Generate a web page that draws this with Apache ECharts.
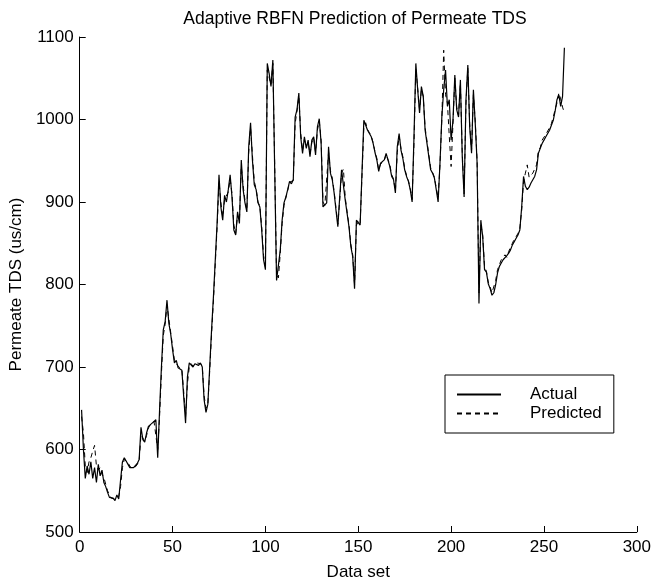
<!DOCTYPE html>
<html>
<head>
<meta charset="utf-8">
<script src="https://cdn.jsdelivr.net/npm/echarts@6/dist/echarts.min.js"></script>
<style>
html,body{margin:0;padding:0;background:#fff;}
#chart{width:654px;height:587px;}
</style>
</head>
<body>
<div id="chart"></div>
<script>
const titleText = 'Adaptive RBFN Prediction of Permeate TDS';
const xName = 'Data set';
const yName = 'Permeate TDS (us/cm)';
const seriesNames = ['Actual', 'Predicted'];

const actual = [
648,600,565,580,570,585,565,578,560,582,
568,575,560,555,548,542,540,541,538,545,
540,563,585,590,586,582,578,576,578,
580,583,588,627,612,609,620,628,630,632,
634,636,590,648,700,745,755,781,753,740,
721,705,708,699,700,696,664,632,688,705,
703,700,704,706,702,705,700,660,645,655,
700,745,785,830,875,933,894,878,908,900,
915,933,906,866,860,888,874,951,915,899,
888,967,996,951,921,915,899,894,866,
830,818,1068,1056,1040,1072,939,805,806,842,
878,899,906,915,925,922,927,1003,1012,1032,
979,959,979,965,975,955,975,979,957,991,
1001,971,894,895,899,967,935,927,911,890,
870,906,939,940,902,886,870,846,834,795,
878,876,872,872,999,997,987,983,979,971,
960,951,937,947,945,951,959,959,943,
931,927,911,967,983,963,953,939,931,925,
915,900,979,1068,1036,1008,1040,1028,987,
971,955,939,935,929,915,900,947,1003,1036,
1060,1016,1024,975,999,1054,1012,1003,1048,955,
906,1024,1066,991,959,1036,995,947,777,878,
858,818,815,801,795,787,790,800,814,822,
826,830,832,835,838,842,848,852,856,
860,866,894,931,919,915,918,923,927,931,
939,959,965,971,975,979,983,987,993,999,
1010,1024,1030,1016,1028,1087
];

const predicted = [
640,620,580,572,585,590,598,605,580,575,
578,570,566,558,550,545,541,540,540,542,
543,555,578,588,589,584,580,577,577,
579,582,586,618,618,610,617,626,630,632,
634,635,600,640,692,738,752,775,758,742,
725,708,706,701,700,697,670,640,680,700,
704,701,703,705,703,704,701,665,650,655,
695,740,780,825,870,925,900,882,903,902,
912,928,910,872,862,884,877,943,920,902,
890,960,990,957,925,916,900,895,870,
835,822,1060,1058,1042,1068,945,812,808,838,
874,896,905,914,924,923,926,995,1010,1028,
984,962,976,967,973,958,972,978,960,987,
998,975,900,896,898,960,938,929,913,893,
873,902,935,940,905,888,872,849,836,800,
872,876,873,872,990,996,988,984,980,972,
961,953,939,946,945,950,958,959,945,
933,928,913,960,980,965,955,941,932,926,
916,903,970,1062,1038,1012,1036,1028,990,
974,957,941,936,930,917,905,945,1000,1084,
1030,1020,980,943,995,1050,1015,1005,1044,960,
910,1020,1062,995,962,1030,998,950,790,872,
860,822,816,803,797,790,792,805,818,820,
830,828,836,833,840,845,850,855,858,
862,868,890,925,935,945,930,928,935,940,
945,962,966,975,973,982,980,990,995,1003,
1012,1020,1032,1025,1015,1008
];

const xTicks = [0,50,100,150,200,250,300];
const yTicks = [500,600,700,800,900,1000,1100];

const toPairs = arr => arr.map((v, i) => [i + 1, v]);

const font = 'Liberation Sans, Arial, Helvetica, sans-serif';
const chart = echarts.init(document.getElementById('chart'), null, {renderer: 'canvas'});
chart.setOption({
  animation: false,
  backgroundColor: '#ffffff',
  title: {
    text: titleText,
    left: 350, top: 5, textAlign: 'center',
    textStyle: {fontFamily: font, fontSize: 17.5, fontWeight: 'normal', color: '#000'}
  },
  grid: {left: 76, right: 14, top: 37, bottom: 55, containLabel: false},
  legend: {
    show: true,
    orient: 'vertical',
    left: 445, top: 375,
    padding: [11, 12, 11, 11],
    itemGap: 2,
    itemWidth: 44, itemHeight: 16,
    borderColor: '#000', borderWidth: 1,
    backgroundColor: '#fff',
    itemStyle: {opacity: 0},
    formatter: name => '{p|' + name + '}',
    textStyle: {fontFamily: font, fontSize: 17, color: '#000',
      rich: {p: {fontFamily: font, fontSize: 17, color: '#000', padding: [0, 0, 0, 24], lineHeight: 16}}},
    data: seriesNames
  },
  xAxis: {
    type: 'value', min: 0, max: 300, interval: 50,
    name: xName, nameLocation: 'middle', nameGap: 32,
    nameTextStyle: {fontFamily: font, fontSize: 17, color: '#000'},
    axisLine: {show: true, onZero: false, lineStyle: {color: '#000', width: 1}},
    axisTick: {show: true, inside: true, length: 6, lineStyle: {color: '#000'}},
    axisLabel: {fontFamily: font, fontSize: 17, color: '#000', margin: 7,
      formatter: v => xTicks.includes(v) ? String(v) : ''},
    splitLine: {show: false}
  },
  yAxis: {
    type: 'value', min: 500, max: 1100, interval: 100,
    name: yName, nameLocation: 'middle', nameGap: 54,
    nameTextStyle: {fontFamily: font, fontSize: 17, color: '#000'},
    axisLine: {show: true, onZero: false, lineStyle: {color: '#000', width: 1}},
    axisTick: {show: true, inside: true, length: 6, lineStyle: {color: '#000'}},
    axisLabel: {fontFamily: font, fontSize: 17, color: '#000', margin: 6,
      formatter: v => yTicks.includes(v) ? String(v) : ''},
    splitLine: {show: false}
  },
  series: [
    {
      name: seriesNames[0], type: 'line', data: toPairs(actual),
      symbol: 'none', z: 3,
      lineStyle: {color: '#000', width: 1.2, type: 'solid'},
      itemStyle: {color: '#000'}
    },
    {
      name: seriesNames[1], type: 'line', data: toPairs(predicted),
      symbol: 'none', z: 2,
      lineStyle: {color: '#000', width: 1, type: [5, 4]},
      itemStyle: {color: '#000'}
    }
  ]
});
</script>
</body>
</html>
